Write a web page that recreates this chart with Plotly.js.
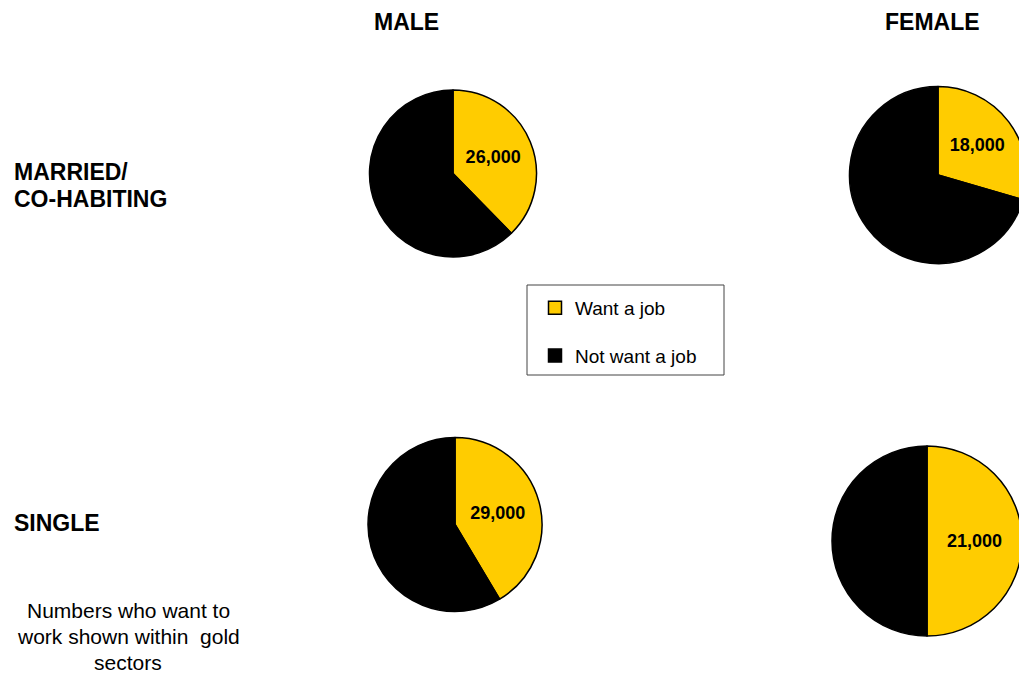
<!DOCTYPE html>
<html><head><meta charset="utf-8">
<script src="https://cdn.plot.ly/plotly-3.0.1.min.js"></script>
<style>html,body{margin:0;padding:0;overflow:hidden;background:#fff}#chart{width:1060px;height:680px}</style>
</head><body><div id="chart"></div>
<script>
const categories = ['Want a job', 'Not want a job'];
const colors = ['#FFCC00', '#000000'];
const maleMarried = [26000, 43000];
const femaleMarried = [18000, 43000];
const maleSingle = [29000, 41000];
const femaleSingle = [21000, 21000];
const columnTitles = ['MALE', 'FEMALE'];
const rowTitles = [['MARRIED/', 'CO-HABITING'], ['SINGLE']];
const noteText = ['Numbers who want to', 'work shown within&nbsp; gold', 'sectors'];

const W = 1060, H = 680;
const FONT = 'Liberation Sans, Arial, sans-serif';
function dom(cx, cy, r) {
  return {x: [(cx - r) / W, (cx + r) / W], y: [1 - (cy + r) / H, 1 - (cy - r) / H]};
}
function pie(values, d) {
  return {
    type: 'pie', labels: categories, values: values, sort: false, direction: 'clockwise', rotation: 0,
    marker: {colors: colors, line: {color: '#000', width: 1.5}},
    text: values.map((v, i) => i === 0 ? v.toLocaleString('en-US') : ''),
    textinfo: 'text', textposition: 'inside', insidetextorientation: 'horizontal',
    textfont: {family: FONT, size: 18, color: '#000', weight: 'bold'},
    hoverinfo: 'skip', showlegend: false, domain: d
  };
}
const data = [
  pie(maleMarried, dom(453, 173.5, 83.5)),
  pie(femaleMarried, dom(938, 175, 88.5)),
  pie(maleSingle, dom(455, 524.5, 87)),
  pie(femaleSingle, dom(927, 541, 95)),
];
categories.forEach((c, i) => data.push({
  type: 'scatter', mode: 'markers', x: [null], y: [null], name: c, legendgroup: 'g' + i,
  marker: {symbol: 'square', size: 13, color: colors[i], line: {color: '#000', width: 1.5}},
  hoverinfo: 'skip'
}));

const ann = [];
function addText(text, x, y, size, bold, xanchor) {
  ann.push({text: bold ? '<b>' + text + '</b>' : text, x: x / W, y: 1 - y / H, xref: 'paper', yref: 'paper',
    xanchor: xanchor, yanchor: 'middle', showarrow: false, align: 'center',
    font: {family: FONT, size: size, color: '#000'}});
}
addText(columnTitles[0], 406, 22, 23, true, 'center');
addText(columnTitles[1], 932, 22, 23, true, 'center');
addText(rowTitles[0][0], 12, 172, 23, true, 'left');
addText(rowTitles[0][1], 12, 199, 23, true, 'left');
addText(rowTitles[1][0], 12, 523, 23, true, 'left');
noteText.forEach((t, i) => addText(t, 128, 610 + i * 26, 21, false, 'center'));

const layout = {
  width: W, height: H, margin: {l: 0, r: 0, t: 0, b: 0},
  paper_bgcolor: '#fff', plot_bgcolor: '#fff',
  xaxis: {visible: false}, yaxis: {visible: false},
  showlegend: true,
  legend: {x: 535 / W, y: 1 - 289 / H, xanchor: 'left', yanchor: 'top', bgcolor: 'rgba(0,0,0,0)',
    borderwidth: 0, tracegroupgap: 20, font: {family: FONT, size: 19, color: '#000'}},
  shapes: [{type: 'rect', xref: 'paper', yref: 'paper', x0: 527 / W, x1: 724 / W,
    y0: 1 - 375 / H, y1: 1 - 285 / H, line: {color: '#444', width: 1}, fillcolor: 'rgba(0,0,0,0)'}],
  annotations: ann
};
Plotly.newPlot('chart', data, layout, {displayModeBar: false, staticPlot: true});
</script></body></html>
